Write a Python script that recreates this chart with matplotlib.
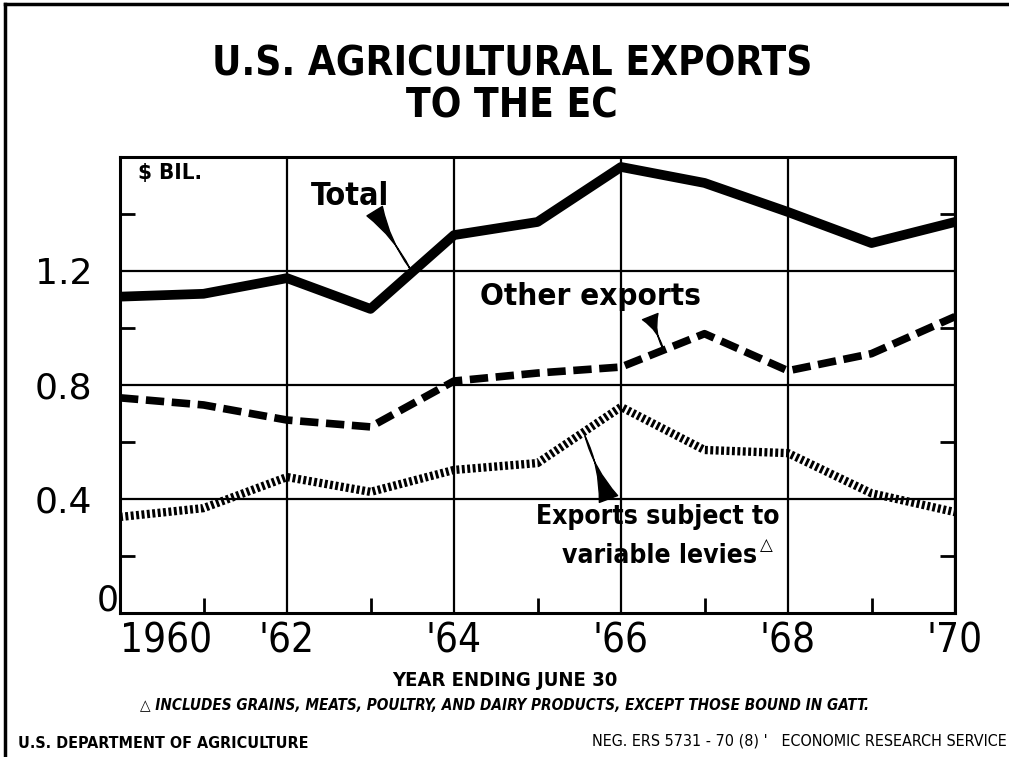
import matplotlib.pyplot as plt
from matplotlib.lines import Line2D

years = list(range(1960, 1971))
total = [1.11, 1.12, 1.175, 1.067, 1.326, 1.372, 1.565, 1.509, 1.407, 1.298, 1.372]
other = [0.755, 0.73, 0.677, 0.653, 0.814, 0.842, 0.863, 0.98, 0.85, 0.91, 1.04]
levies = [0.337, 0.368, 0.477, 0.425, 0.502, 0.526, 0.723, 0.572, 0.561, 0.42, 0.354]

xticks = [1960, 1962, 1964, 1966, 1968, 1970]
xlabels = ["1960", "'62", "'64", "'66", "'68", "'70"]
yticks = [0.4, 0.8, 1.2]
ylabels = ["0.4", "0.8", "1.2"]

plt.rcParams['font.family'] = ['DejaVu Sans']
COND = dict(fontstretch='condensed')

fig = plt.figure(figsize=(10.09, 7.57), dpi=100)
ax = fig.add_axes([120/1009, 1 - 613/757, 835/1009, 456/757])

ax.plot(years, total, color='black', lw=7, solid_joinstyle='round')
ax.plot(years, other, color='black', lw=5.5, linestyle=(0, (2.4, 1.0)))
ax.plot(years, levies, color='black', lw=6, linestyle=(0, (0.35, 0.3)))

ax.set_xlim(1960, 1970)
ax.set_ylim(0, 1.6)
ax.set_xticks(xticks, labels=xlabels)
ax.set_xticks(range(1961, 1970, 2), minor=True)
ax.set_yticks(yticks, labels=ylabels)
ax.set_yticks([0.2, 0.6, 1.0, 1.4], minor=True)
ax.grid(which='major', color='black', lw=1.6)
ax.tick_params(which='major', length=0)
ax.tick_params(axis='x', which='major', pad=6, labelsize=29)
ax.tick_params(axis='y', which='major', pad=20, labelsize=26)
ax.tick_params(axis='y', which='minor', direction='in', length=11, width=2, left=True, right=True)
ax.tick_params(axis='x', which='minor', direction='in', length=11, width=2, bottom=True)
for lbl in ax.get_xticklabels():
    lbl.set_fontstretch('condensed')
ax.get_xticklabels()[0].set_horizontalalignment('left')
for s in ax.spines.values():
    s.set_linewidth(2.2)

ax.annotate('0', xy=(1960, 0), xytext=(-1, -3), textcoords='offset points',
            ha='right', va='bottom', fontsize=25, annotation_clip=False)
ax.text(1960.22, 1.545, '$ BIL.', fontsize=16, fontweight='bold', va='center', **COND)

# labels with wedge pointers
ax.text(1962.75, 1.463, 'Total', fontsize=23, fontweight='bold', ha='center', va='center', **COND)
ax.annotate('', xy=(1963.47, 1.21), xytext=(1963.05, 1.41),
            arrowprops=dict(arrowstyle='wedge,tail_width=1.3,shrink_factor=0.08',
                            color='black', shrinkA=0, shrinkB=0))

ax.text(1965.63, 1.109, 'Other exports', fontsize=22.5, fontweight='bold', ha='center', va='center', **COND)
ax.annotate('', xy=(1966.5, 0.93), xytext=(1966.35, 1.04),
            arrowprops=dict(arrowstyle='wedge,tail_width=1.2,shrink_factor=0.08',
                            color='black', shrinkA=0, shrinkB=0))

ax.text(1967.90, 0.336, 'Exports subject to', fontsize=19, fontweight='bold', ha='right', va='center', **COND)
ax.text(1967.63, 0.20, 'variable levies', fontsize=19, fontweight='bold', ha='right', va='center', **COND)
ax.text(1967.67, 0.237, '△', fontsize=12, fontweight='bold', ha='left', va='center')
ax.annotate('', xy=(1965.57, 0.62), xytext=(1965.85, 0.40),
            arrowprops=dict(arrowstyle='wedge,tail_width=1.4,shrink_factor=0.08',
                            color='black', shrinkA=0, shrinkB=0))

# title and footer
fig.text(512/1009, 1 - 65/757, 'U.S. AGRICULTURAL EXPORTS', fontsize=29, fontweight='bold',
         ha='center', va='center', **COND)
fig.text(512/1009, 1 - 107/757, 'TO THE EC', fontsize=29, fontweight='bold',
         ha='center', va='center', **COND)
fig.text(505/1009, 1 - 680/757, 'YEAR ENDING JUNE 30', fontsize=14.5, fontweight='bold',
         ha='center', va='center', **COND)
fig.text(505/1009, 1 - 706/757,
         '△ INCLUDES GRAINS, MEATS, POULTRY, AND DAIRY PRODUCTS, EXCEPT THOSE BOUND IN GATT.',
         fontsize=11, fontstyle='italic', fontweight='bold', ha='center', va='center', **COND)
fig.text(18/1009, 1 - 743/757, 'U.S. DEPARTMENT OF AGRICULTURE', fontsize=11.5, fontweight='bold',
         ha='left', va='center', **COND)
fig.text(1007/1009, 1 - 741/757, "NEG. ERS 5731 - 70 (8) '   ECONOMIC RESEARCH SERVICE", fontsize=11.5,
         ha='right', va='center', **COND)

# frame of the original sheet
fig.add_artist(Line2D([5/1009, 5/1009], [0, 1 - 4/757], color='black', lw=2.5))
fig.add_artist(Line2D([5/1009, 1], [1 - 4/757, 1 - 4/757], color='black', lw=2.5))

plt.savefig('out.png', dpi=100)
